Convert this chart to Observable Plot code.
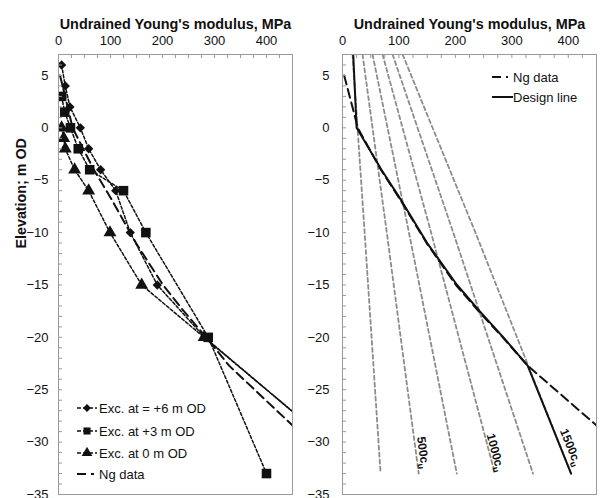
<!DOCTYPE html>
<html><head><meta charset="utf-8">
<script src="https://cdn.jsdelivr.net/npm/d3@7"></script>
<script src="https://cdn.jsdelivr.net/npm/@observablehq/plot@0.6"></script>
<style>
html,body{margin:0;padding:0;background:#fff;overflow:hidden;}
#wrap{position:relative;width:606px;height:498px;display:flex;overflow:hidden;font-family:"Liberation Sans",Arial,sans-serif;}
.row{position:absolute;display:flex;align-items:center;white-space:nowrap;height:16px;font-size:13px;color:#111;}
.row svg{flex:none;display:block;}
</style></head><body><div id="wrap"></div>
<script>
// ---- data ----
const elevation6 = [6, 4, 2, 0, -2, -4, -6, -10, -15, -20, -30];
const modulus6   = [6, 13, 22, 42, 58, 81, 110, 138, 190, 281, 520];
const elevation3 = [3, 1.5, 0, -2, -4, -6, -10, -20, -33];
const modulus3   = [6, 12, 23, 38, 60, 125, 168, 288, 400];
const elevation0 = [0, -1, -2, -4, -6, -10, -15, -20, -30];
const modulus0   = [6, 10, 13, 31, 58, 99, 160, 280, 520];
const ngElevation = [5, 1.5, 0, -4, -7, -11, -15, -17.5, -20, -22.7, -30];
const ngModulus   = [3, 20, 27, 68, 104, 149, 201, 241, 284, 328, 484];
const designElevation = [7, 0, -4, -7, -11, -15, -17.5, -20, -22.7, -33];
const designModulus   = [19, 25, 69, 105, 150, 203, 243, 285, 328, 405];
const cuElevation = [7, -10, -33];
const cuValues    = [0.071, 0.157, 0.270];   // MPa
const multipliers = [250, 500, 750, 1000, 1250, 1500];
const labelMultipliers = [500, 1000, 1500];
const labelElevation   = [-31, -31, -30.5];
const xTicks = [0, 100, 200, 300, 400];
const yTicks = [5, 0, -5, -10, -15, -20, -25, -30, -35];
const xTitle = "Undrained Young's modulus, MPa";
const yTitle = "Elevation; m OD";

const cuAt = d3.scaleLinear().domain(cuElevation).range(cuValues);
const cuLines = multipliers.flatMap(k => cuElevation.map((z, i) => ({k, z, E: k * cuValues[i]})));

const W = 303, H = 498, MT = 54, MB = 4;
const INK = "#111", FRAME = "#9a9a9a";

function panel({marginLeft, marginRight, tickPadding, marks}) {
  const pw = W - marginLeft - marginRight, ph = H - MT - MB;
  return Plot.plot({
    width: W, height: H, marginTop: MT, marginBottom: MB, marginLeft, marginRight,
    style: {fontFamily: "'Liberation Sans', Arial, sans-serif", fontSize: "13px", color: INK, background: "#fff"},
    x: {domain: [0, 450], axis: null},
    y: {domain: [-35, 7], axis: null},
    marks: [
      ...marks,
      Plot.frame({stroke: FRAME}),
      Plot.tickX(d3.range(0, 451, 25), {x: d => d, stroke: FRAME, insetBottom: ph - 4}),
      Plot.tickY(d3.range(-35, 8, 1), {y: d => d, stroke: FRAME, insetRight: pw - 4}),
      Plot.axisX(xTicks, {anchor: "top", tickSize: 0, tickPadding: 10, label: null, fill: INK}),
      Plot.axisY(yTicks, {anchor: "left", tickSize: 0, tickPadding, label: null, fill: INK}),
      Plot.text([xTitle], {frameAnchor: "top", dy: -36, fontWeight: "bold", fontSize: 14.4, fill: INK})
    ]
  });
}

const seriesLine = {stroke: INK, strokeWidth: 1.5, strokeDasharray: "3,2", clip: true};
const ngLine = {stroke: INK, strokeWidth: 2, strokeDasharray: "9,5", clip: true};

const left = panel({
  marginLeft: 58, marginRight: 11, tickPadding: 10,
  marks: [
    Plot.line(ngElevation, {x: ngModulus, y: ngElevation, ...ngLine}),
    Plot.line(elevation6, {x: modulus6, y: elevation6, ...seriesLine}),
    Plot.line(elevation3, {x: modulus3, y: elevation3, ...seriesLine}),
    Plot.line(elevation0, {x: modulus0, y: elevation0, ...seriesLine}),
    Plot.dot(elevation6, {x: modulus6, y: elevation6, symbol: "diamond2", r: 4.2, fill: INK, stroke: "none", clip: true}),
    Plot.dot(elevation3, {x: modulus3, y: elevation3, symbol: "square", r: 5.4, fill: INK, stroke: "none", clip: true}),
    Plot.dot(elevation0, {x: modulus0, y: elevation0, symbol: "triangle", r: 4.8, fill: INK, stroke: "none", clip: true}),
    Plot.text([yTitle], {frameAnchor: "left", rotate: -90, dx: -37, dy: -26, fontWeight: "bold", fontSize: 14.3, fill: INK})
  ]
});

const labelStyle = [
  {rotate: 82, dx: 7},
  {rotate: 75, dx: 6},
  {rotate: 68, dx: 10}
];
const right = panel({
  marginLeft: 39, marginRight: 10, tickPadding: 13,
  marks: [
    Plot.line(cuLines, {x: "E", y: "z", z: "k", stroke: "#8c8c8c", strokeWidth: 1.8, strokeDasharray: "4,3", clip: true}),
    Plot.line(ngElevation, {x: ngModulus, y: ngElevation, ...ngLine}),
    Plot.line(designElevation, {x: designModulus, y: designElevation, stroke: INK, strokeWidth: 2, clip: true}),
    ...labelMultipliers.map((k, i) => Plot.text([k], {
      x: d => d * cuAt(labelElevation[i]), y: () => labelElevation[i], text: d => d + "c",
      rotate: labelStyle[i].rotate, dx: labelStyle[i].dx, fontWeight: "bold", fontSize: 12, fill: INK
    }))
  ]
});

d3.select(right).selectAll("text")
  .filter(function () { return /^\d+c$/.test(this.textContent); })
  .append("tspan").attr("dy", "0.35em").attr("font-size", "9px").text("u");

const wrap = document.getElementById("wrap");
wrap.append(left, right);

// ---- legends (overlay) ----
function addRow(x, y, kind, label, w) {
  const row = document.createElement("div");
  row.className = "row";
  row.style.left = x + "px";
  row.style.top = (y - 8) + "px";
  const svg = d3.create("svg").attr("width", w).attr("height", 12);
  if (kind === "ng") {
    svg.append("line").attr("x1", 0).attr("x2", w - 5).attr("y1", 6).attr("y2", 6)
      .attr("stroke", INK).attr("stroke-width", 2).attr("stroke-dasharray", "9,5");
  } else if (kind === "design") {
    svg.append("line").attr("x1", 0).attr("x2", w).attr("y1", 6).attr("y2", 6)
      .attr("stroke", INK).attr("stroke-width", 2);
  } else {
    svg.append("line").attr("x1", 0).attr("x2", w - 2).attr("y1", 6).attr("y2", 6)
      .attr("stroke", INK).attr("stroke-width", 1.5).attr("stroke-dasharray", "4,2");
    const sym = {diamond: [d3.symbolDiamond2, 40], square: [d3.symbolSquare, 50], triangle: [d3.symbolTriangle, 50]}[kind];
    svg.append("path").attr("d", d3.symbol(sym[0], sym[1])()).attr("transform", `translate(${(w - 2) / 2},6)`).attr("fill", INK);
  }
  row.append(svg.node());
  const span = document.createElement("span");
  span.textContent = label;
  row.append(span);
  wrap.append(row);
}
addRow(77, 408, "diamond", "Exc. at = +6 m OD", 22);
addRow(77, 431, "square", "Exc. at +3 m OD", 22);
addRow(77, 453, "triangle", "Exc. at 0 m OD", 22);
addRow(77, 474, "ng", "Ng data", 22);
addRow(492, 77, "ng", "Ng data", 21);
addRow(492, 97, "design", "Design line", 21);
</script></body></html>
